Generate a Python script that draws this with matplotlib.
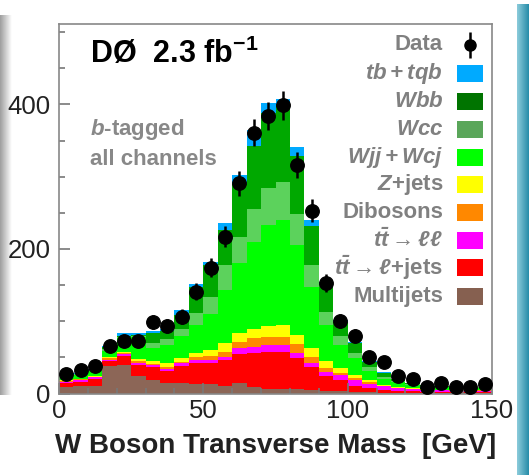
import numpy as np
import matplotlib
matplotlib.use("Agg")
import matplotlib.pyplot as plt
from matplotlib.ticker import MultipleLocator
from matplotlib.patches import Rectangle

plt.rcParams['font.family'] = ['Liberation Sans', 'DejaVu Sans']
plt.rcParams['mathtext.fontset'] = 'custom'
plt.rcParams['mathtext.rm'] = 'Liberation Sans:bold'
plt.rcParams['mathtext.bf'] = 'Liberation Sans:bold'
plt.rcParams['mathtext.it'] = 'Liberation Sans:italic:bold'
plt.rcParams['mathtext.bfit'] = 'Liberation Sans:italic:bold'

# W transverse mass, 5 GeV bins from 0 to 150
edges = np.arange(0, 155, 5)

data = [27, 32, 38, 66, 73, 73, 99, 94, 106, 141,
        174, 217, 291, 361, 384, 399, 316, 253, 153, 100,
        80, 51, 43, 24, 20, 9, 14, 9, 9, 13]

# background yields per bin, bottom of the stack first
multijets = [8.5, 10, 11, 38, 39, 24, 18.7, 14, 14, 13.3,
             13.1, 10.3, 14, 8.5, 5.8, 5.8, 5.8, 4.9, 4, 4,
             2, 1.5, 1, 1, 0.8, 0.7, 0.6, 0.5, 0.5, 0.5]
tt_ljets = [5.5, 6, 9.5, 7.4, 13, 14.9, 17.5, 17.6, 24, 28.6,
            28.8, 36.2, 40.8, 48.2, 52.2, 52.2, 43, 31.3, 20.2, 14.7,
            9, 6.5, 4, 3, 2.2, 1.8, 1.4, 1.5, 1.5, 1.5]
tt_ll = [2, 2, 2, 1.6, 2, 3.7, 2.8, 2.8, 3.9, 4.6,
         4.6, 4.6, 7.8, 8.3, 8.8, 8.8, 7.9, 6.5, 6, 6.5,
         7, 5.3, 4.7, 3, 3, 2.5, 2.5, 2, 2, 2]
dibosons = [1, 1.5, 1, 1.5, 2, 2.4, 1.9, 2.8, 2.3, 4.6,
            5.5, 6.9, 9.2, 11.5, 12, 12, 12, 8.4, 4.6, 2.8,
            3.6, 2.2, 1.3, 0.8, 0.8, 0.5, 0.5, 0.5, 0.5, 0.5]
zjets = [1.7, 1, 1, 1.5, 1.4, 2.3, 4.1, 5.5, 4.6, 5.6,
         8.3, 11.5, 12.4, 12.3, 14.7, 15.5, 12.9, 12.4, 10.6, 7.8,
         4.4, 2.5, 1.4, 0.7, 0.7, 0.5, 0.5, 0.5, 0.5, 0.5]
wjj_wcj = [4.3, 5, 6.5, 9, 19.6, 30.7, 17.5, 24.3, 30.8, 38.3,
           49.7, 73.5, 95.8, 121.2, 139.5, 145.7, 123.4, 84.5, 49.6, 31.2,
           22.7, 13.6, 8.1, 7.1, 4.5, 3.5, 3, 3, 2.8, 2.8]
wcc = [1, 1, 1, 2, 1.5, 1.5, 6.9, 7.9, 9.2, 16,
       24, 35, 37, 46, 51, 53, 44, 30, 18, 12,
       6.9, 5.4, 2.8, 1.4, 1, 1, 0.7, 0.6, 0.6, 0.6]
wbb = [0.7, 0.8, 1, 3, 1.5, 1.5, 13.9, 11.6, 19.9, 37,
       44, 48, 73, 86, 104, 108, 80, 54, 39, 20,
       13.9, 7, 5.7, 2.6, 1, 1, 0.6, 0.6, 0.6, 0.6]
tb_tqb = [0.5, 0.5, 0.5, 1.5, 4, 3, 3.2, 2.3, 6.9, 4,
          4, 10, 12, 23, 14, 6, 12, 8, 3, 3,
          2.2, 1.5, 1, 0.9, 0.5, 0.5, 0.4, 0.3, 0.3, 0.3]

stack = [
    (multijets, '#8c6657', '#866050', 'Multijets'),
    (tt_ljets, '#ff0000', '#ff0000', r'$\mathbfit{t\bar{t}}\rightarrow\ell$+jets'),
    (tt_ll, '#ff00ff', '#ff00ff', r'$\mathbfit{t\bar{t}}\rightarrow\ell\ell$'),
    (dibosons, '#ff8800', '#ff8800', 'Dibosons'),
    (zjets, '#ffff00', '#ffff00', r'$\mathbfit{Z}$+jets'),
    (wjj_wcj, '#00ff00', '#00ff00', r'$\mathbfit{Wjj+Wcj}$'),
    (wcc, '#5cd25c', '#5aa65a', r'$\mathbfit{Wcc}$'),
    (wbb, '#00a800', '#007400', r'$\mathbfit{Wbb}$'),
    (tb_tqb, '#00aaff', '#00aaff', r'$\mathbfit{tb+tqb}$'),
]

fig = plt.figure(figsize=(5.29, 4.75), dpi=100)

# frame shading at the left and right edges, kept behind everything
left = fig.add_axes([0, 1 - 395 / 475, 12 / 529, 380 / 475], zorder=-1)
left.imshow(np.linspace(0.62, 1.0, 50)[None, :], cmap='gray', vmin=0, vmax=1,
            aspect='auto')
left.axis('off')
right = fig.add_axes([517 / 529, 0, 12 / 529, 1 - 4 / 475], zorder=-1)
grad = np.linspace(0, 1, 50)[None, :, None]
c0 = np.array([0.55, 0.80, 0.86])
c1 = np.array([0.15, 0.55, 0.66])
right.imshow(c0 + (c1 - c0) * grad, aspect='auto')
right.axis('off')

ax = fig.add_axes([59 / 529, 1 - 393.5 / 475, 433 / 529, 369.2 / 475])
ax.patch.set_alpha(0)

bottom = np.zeros(len(data))
for vals, col, _, _ in stack:
    vals = np.array(vals)
    ax.bar(edges[:-1], vals, width=5, bottom=bottom, align='edge',
           color=col, linewidth=0)
    bottom += vals

centers = edges[:-1] + 2.5
ax.errorbar(centers, data, yerr=np.sqrt(data), fmt='o', color='black',
            ms=9.7, elinewidth=1.8, capsize=0, zorder=5)

ax.set_xlim(0, 150)
ax.set_ylim(0, 511)
ax.xaxis.set_major_locator(MultipleLocator(50))
ax.xaxis.set_minor_locator(MultipleLocator(10))
ax.yaxis.set_major_locator(MultipleLocator(200))
ax.yaxis.set_minor_locator(MultipleLocator(50))
ax.tick_params(which='both', direction='in', color='#777777', width=1.2)
ax.tick_params(which='major', length=8, labelsize=18.5, labelcolor='#222222')
ax.tick_params(which='minor', length=4)
ax.tick_params(axis='x', pad=4)
ax.tick_params(axis='y', pad=6)
for s in ax.spines.values():
    s.set_color('#888888')
    s.set_linewidth(1.2)

ax.set_xlabel('W Boson Transverse Mass  [GeV]', fontsize=20,
              fontweight='bold', color='#222222', labelpad=7)

ax.text(0.072, 0.92, r'DØ  2.3 fb$^{\mathbf{-1}}$', transform=ax.transAxes,
        fontsize=22, fontweight='bold', color='black', va='center')
ax.text(0.072, 0.715, r'$\mathbfit{b}$-tagged', transform=ax.transAxes,
        fontsize=16, fontweight='bold', color='#888888', va='center')
ax.text(0.072, 0.634, 'all channels', transform=ax.transAxes,
        fontsize=16, fontweight='bold', color='#888888', va='center')

# legend, drawn row by row
row_y = [0.944, 0.867, 0.790, 0.715, 0.640, 0.565, 0.490, 0.414, 0.340, 0.263]
tx = 0.887
sx, sw, sh = 0.919, 0.060, 0.046
ax.text(tx, row_y[0], 'Data', transform=ax.transAxes, ha='right',
        va='center', fontsize=16, fontweight='bold', color='#808080')
ax.errorbar([sx + sw / 2], [row_y[0]], yerr=[0.034], fmt='o', color='black',
            ms=8, elinewidth=1.8, capsize=0, transform=ax.transAxes,
            clip_on=False, zorder=6)
for i, (_, _, lcol, label) in enumerate(stack[::-1]):
    y = row_y[i + 1]
    ax.text(tx, y, label, transform=ax.transAxes, ha='right', va='center',
            fontsize=16, fontweight='bold', color='#808080')
    ax.add_patch(Rectangle((sx, y - sh / 2), sw, sh, transform=ax.transAxes,
                           facecolor=lcol, edgecolor='none', zorder=6))

fig.savefig('out.png', dpi=100)
